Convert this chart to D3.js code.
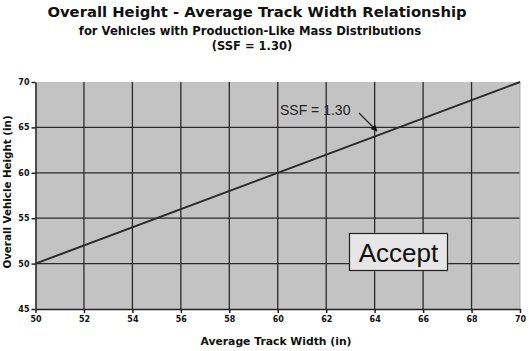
<!DOCTYPE html>
<html lang="en">
    <head>
        <meta charset="utf-8">
        <title>Overall Height - Average Track Width</title>
        <script type="text/javascript" src="https://d3js.org/d3.v7.min.js"></script>
        <style>
            body { margin: 0; background: #fff; }
            svg { display: block; }
            .axis text {
                font-family: "DejaVu Sans", sans-serif;
                font-weight: bold;
                font-size: 8px;
                fill: #111;
            }
            .axis path, .axis line { stroke: #222; }
        </style>
    </head>
    <body>
        <script>
            // data
            const trackWidth = [50, 70];        // in
            const overallHeight = [50, 70];     // in, SSF = 1.30
            const xTicks = [50, 52, 54, 56, 58, 60, 62, 64, 66, 68, 70];
            const yTicks = [45, 50, 55, 60, 65, 70];

            const w = 529;
            const h = 351;
            const plotLeft = 35.5, plotRight = 520, plotTop = 82, plotBottom = 309;

            const svg = d3.select("body")
                        .append("svg")
                        .attr("width", w)
                        .attr("height", h)

            // scales
            const xScale = d3.scaleLinear().domain([50, 70]).range([plotLeft, plotRight])
            const yScale = d3.scaleLinear().domain([45, 70]).range([plotBottom, plotTop])

            // plot area
            svg.append("rect")
                .attr("x", plotLeft).attr("y", plotTop)
                .attr("width", plotRight - plotLeft).attr("height", plotBottom - plotTop)
                .attr("fill", "#c3c3c3")

            // grid
            svg.append("g").selectAll("line")
                .data(xTicks.slice(1, -1))
                .enter().append("line")
                .attr("x1", d => xScale(d)).attr("x2", d => xScale(d))
                .attr("y1", plotTop).attr("y2", plotBottom)
                .attr("stroke", "#2a2a2a").attr("stroke-width", 1.3)
            svg.append("g").selectAll("line")
                .data(yTicks.slice(1, -1))
                .enter().append("line")
                .attr("x1", plotLeft).attr("x2", plotRight)
                .attr("y1", d => yScale(d)).attr("y2", d => yScale(d))
                .attr("stroke", "#2a2a2a").attr("stroke-width", 1.3)

            // right edge of plot
            svg.append("line")
                .attr("x1", plotRight).attr("x2", plotRight).attr("y1", plotTop).attr("y2", plotBottom)
                .attr("stroke", "#aaa")

            // axes
            const xAxis = d3.axisBottom(xScale).tickValues(xTicks).tickSize(4).tickSizeOuter(0).tickPadding(3)
            const yAxis = d3.axisLeft(yScale).tickValues(yTicks).tickSize(4).tickSizeOuter(0).tickPadding(2)

            svg.append("g")
                .attr("class", "axis")
                .attr("transform", `translate(0,${plotBottom})`)
                .call(xAxis)
                .selectAll("path, line").attr("stroke-width", 1.5)

            svg.append("g")
                .attr("class", "axis")
                .attr("transform", `translate(${plotLeft},0)`)
                .call(yAxis)
                .selectAll("path, line").attr("stroke-width", 1.5)

            // SSF line
            const line = d3.line()
                .x(d => xScale(d[0]))
                .y(d => yScale(d[1]))
            svg.append("path")
                .datum(d3.zip(trackWidth, overallHeight))
                .attr("d", line)
                .attr("fill", "none")
                .attr("stroke", "#2a2a2a")
                .attr("stroke-width", 2)

            // titles
            const font = "'DejaVu Sans', sans-serif";
            svg.append("text").attr("x", 257).attr("y", 17)
                .attr("text-anchor", "middle").attr("font-family", font)
                .attr("font-weight", "bold").attr("font-size", 14.8)
                .attr("fill", "#111")
                .text("Overall Height - Average Track Width Relationship")
            svg.append("text").attr("x", 250).attr("y", 35)
                .attr("text-anchor", "middle").attr("font-family", font)
                .attr("font-weight", "bold").attr("font-size", 11.6)
                .attr("fill", "#111")
                .text("for Vehicles with Production-Like Mass Distributions")
            svg.append("text").attr("x", 252).attr("y", 50)
                .attr("text-anchor", "middle").attr("font-family", font)
                .attr("font-weight", "bold").attr("font-size", 11.5)
                .attr("fill", "#111")
                .text("(SSF = 1.30)")

            svg.append("text").attr("x", 276).attr("y", 345)
                .attr("text-anchor", "middle").attr("font-family", font)
                .attr("font-weight", "bold").attr("font-size", 10.8)
                .attr("fill", "#111")
                .text("Average Track Width (in)")
            svg.append("text")
                .attr("transform", "translate(11,192) rotate(-90)")
                .attr("text-anchor", "middle").attr("font-family", font)
                .attr("font-weight", "bold").attr("font-size", 10.3)
                .attr("fill", "#111")
                .text("Overall Vehicle Height (in)")

            // annotation
            svg.append("text").attr("x", 280).attr("y", 115)
                .attr("font-family", "'Liberation Sans', Arial, sans-serif")
                .attr("font-size", 14).attr("fill", "#222")
                .text("SSF = 1.30")
            svg.append("defs").append("marker")
                .attr("id", "arrow").attr("viewBox", "0 0 10 10")
                .attr("refX", 9).attr("refY", 5)
                .attr("markerWidth", 5).attr("markerHeight", 5)
                .attr("orient", "auto")
                .append("path").attr("d", "M0,0L10,5L0,10z").attr("fill", "#111")
            svg.append("line")
                .attr("x1", 359).attr("y1", 113).attr("x2", 377).attr("y2", 131)
                .attr("stroke", "#222").attr("stroke-width", 1.3)
                .attr("marker-end", "url(#arrow)")

            // Accept box
            svg.append("rect")
                .attr("x", 349.5).attr("y", 233.5).attr("width", 98).attr("height", 37)
                .attr("fill", "#e6e6e6").attr("stroke", "#222").attr("stroke-width", 1.2)
            svg.append("text").attr("x", 398.5).attr("y", 262)
                .attr("text-anchor", "middle")
                .attr("font-family", "'Liberation Sans', Arial, sans-serif")
                .attr("font-size", 26).attr("fill", "#111")
                .text("Accept")
        </script>
    </body>
</html>
